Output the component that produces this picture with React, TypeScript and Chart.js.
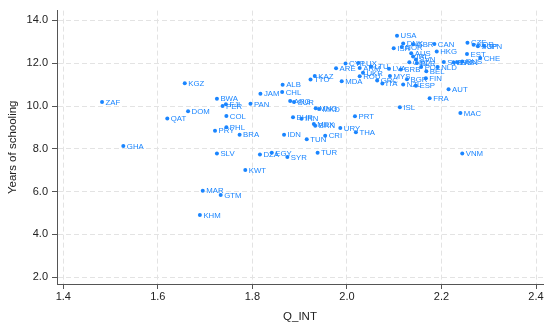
import React, { useEffect, useRef } from "react";
import { Chart, registerables } from "chart.js";

Chart.register(...registerables);

const countries = [
  "ZAF", "GHA", "QAT", "KGZ", "DOM", "BWA", "PER", "FJI", "COL", "PHL",
  "PRY", "BRA", "SLV", "MAR", "GTM", "KHM", "KWT", "PAN", "JAM", "DZA",
  "EGY", "SYR", "ALB", "CHL", "ARG", "SUR", "IDN", "BHR", "IRN", "TUN",
  "KAZ", "TTO", "MNG", "MKD", "MEX", "BRN", "TUR", "CRI", "URY", "MDA",
  "ARE", "PRT", "THA", "CYP", "LUX", "ARM", "UKR", "ROU", "LTU", "GRC",
  "ITA", "LVA", "MYS", "SRB", "BGR", "NZL", "ESP", "USA", "ISR", "NOR",
  "DNK", "GBR", "CAN", "HKG", "AUS", "IRL", "SVN", "GEO", "BLR", "POL",
  "BEL", "NLD", "FIN", "AUT", "FRA", "ISL", "MAC", "VNM", "SWE", "SVK",
  "HUN", "RUS", "CZE", "KOR", "SGP", "JPN", "EST", "CHE",
];

const qInt = [
  1.482, 1.527, 1.620, 1.657, 1.664, 1.725, 1.737, 1.744, 1.745, 1.745,
  1.721, 1.773, 1.725, 1.695, 1.733, 1.689, 1.785, 1.796, 1.817, 1.816,
  1.841, 1.874, 1.864, 1.863, 1.880, 1.888, 1.867, 1.886, 1.904, 1.915,
  1.932, 1.923, 1.934, 1.941, 1.930, 1.933, 1.938, 1.954, 1.986, 1.989,
  1.977, 2.017, 2.019, 1.997, 2.024, 2.027, 2.034, 2.027, 2.051, 2.064,
  2.075, 2.089, 2.091, 2.114, 2.127, 2.119, 2.146, 2.106, 2.099, 2.116,
  2.119, 2.140, 2.185, 2.190, 2.136, 2.140, 2.146, 2.132, 2.148, 2.157,
  2.168, 2.192, 2.167, 2.215, 2.175, 2.112, 2.240, 2.244, 2.205, 2.226,
  2.234, 2.244, 2.255, 2.268, 2.277, 2.290, 2.254, 2.282,
];

const schooling = [
  10.19, 8.13, 9.42, 11.06, 9.76, 10.34, 10.00, 10.08, 9.53, 9.01,
  8.84, 8.66, 7.78, 6.04, 5.84, 4.91, 7.01, 10.10, 10.57, 7.73,
  7.81, 7.62, 10.99, 10.65, 10.23, 10.19, 8.66, 9.48, 9.41, 8.45,
  11.40, 11.24, 9.90, 9.86, 9.16, 9.08, 7.82, 8.61, 8.97, 11.16,
  11.76, 9.52, 8.77, 11.99, 12.01, 11.78, 11.55, 11.39, 11.85, 11.19,
  11.05, 11.74, 11.40, 11.71, 11.25, 11.00, 10.95, 13.29, 12.70, 12.76,
  12.92, 12.89, 12.90, 12.55, 12.47, 12.32, 12.17, 12.05, 12.01, 11.82,
  11.63, 11.82, 11.30, 10.78, 10.36, 9.94, 9.67, 7.78, 12.06, 12.03,
  12.05, 12.08, 12.96, 12.86, 12.79, 12.81, 12.43, 12.25,
];

const xTicks = [1.4, 1.6, 1.8, 2.0, 2.2, 2.4];
const yTicks = [2, 4, 6, 8, 10, 12, 14];

const BLUE = "#1a85ff";
const FONT = '"Liberation Sans", Arial, Helvetica, sans-serif';

const labelPlugin = {
  id: "countryLabels",
  afterDatasetsDraw(chart: any) {
    const ctx = chart.ctx;
    const meta = chart.getDatasetMeta(0);
    ctx.save();
    ctx.font = `7.8px ${FONT}`;
    ctx.fillStyle = BLUE;
    ctx.textBaseline = "middle";
    ctx.textAlign = "left";
    meta.data.forEach((pt: any, i: number) => {
      ctx.fillText(countries[i], pt.x + 3.5, pt.y + 0.5);
    });
    ctx.restore();
  },
};

export default function App() {
  const ref = useRef<HTMLCanvasElement | null>(null);

  useEffect(() => {
    if (!ref.current) return;
    const points = qInt.map((x, i) => ({ x, y: schooling[i] }));
    const chart = new Chart(ref.current, {
      type: "scatter",
      data: {
        datasets: [
          {
            data: points,
            backgroundColor: BLUE,
            borderColor: BLUE,
            pointRadius: 2,
            pointBorderWidth: 0,
          },
        ],
      },
      options: {
        animation: false,
        responsive: false,
        layout: { padding: { top: 5, right: 7, left: 0, bottom: 0 } },
        plugins: { legend: { display: false }, tooltip: { enabled: false } },
        scales: {
          x: {
            type: "linear",
            min: 1.3867,
            max: 2.4148,
            afterBuildTicks: (s: any) => {
              s.ticks = xTicks.map((v) => ({ value: v }));
            },
            afterFit: (s: any) => {
              s.height = 40;
            },
            ticks: {
              autoSkip: false,
              maxRotation: 0,
              padding: 1,
              color: "#222",
              font: { family: FONT, size: 11 },
              callback: (v: any) => Number(v).toFixed(1),
            },
            grid: {
              color: "#e3e3e3",
              lineWidth: 1,
              tickColor: "#555",
              tickLength: 5,
            },
            border: { color: "#555", width: 1, dash: [5, 3] },
            title: {
              display: true,
              text: "Q_INT",
              color: "#222",
              font: { family: FONT, size: 11.5 },
              padding: { top: 0, bottom: 0 },
            },
          },
          y: {
            type: "linear",
            min: 1.68,
            max: 14.46,
            afterBuildTicks: (s: any) => {
              s.ticks = yTicks.map((v) => ({ value: v }));
            },
            afterFit: (s: any) => {
              s.width = 57;
            },
            ticks: {
              autoSkip: false,
              padding: 4,
              color: "#222",
              font: { family: FONT, size: 11 },
              callback: (v: any) => Number(v).toFixed(1),
            },
            grid: {
              color: "#e3e3e3",
              lineWidth: 1,
              tickColor: "#555",
              tickLength: 5,
            },
            border: { color: "#555", width: 1, dash: [5, 3] },
            title: {
              display: true,
              text: "Years of schooling",
              color: "#222",
              font: { family: FONT, size: 11.5 },
              padding: { top: 6, bottom: 0 },
            },
          },
        },
      },
      plugins: [labelPlugin],
    });
    return () => chart.destroy();
  }, []);

  return (
    <div style={{ position: "fixed", left: 0, top: 0, width: 550, height: 324, background: "#fff" }}>
      <canvas ref={ref} width={550} height={324} />
    </div>
  );
}
